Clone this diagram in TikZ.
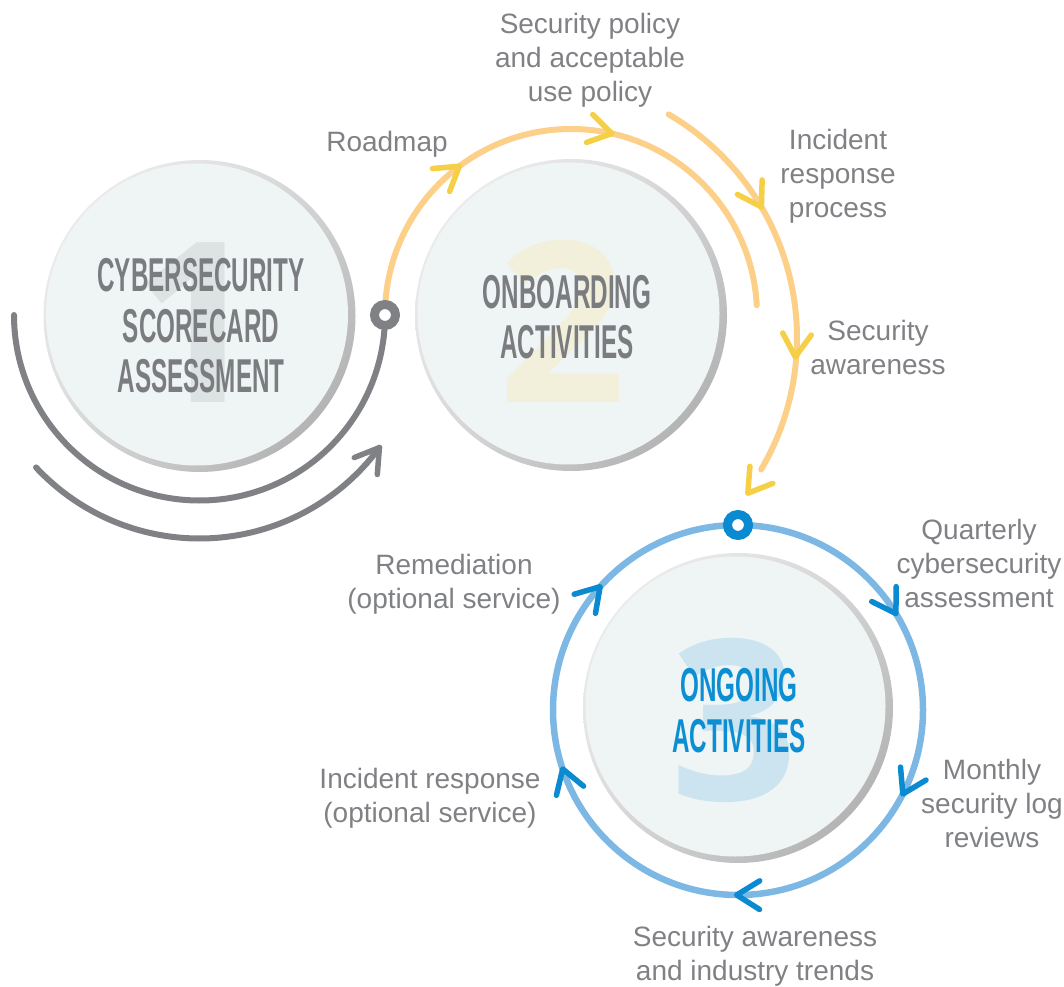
\documentclass[tikz,border=0pt]{standalone}
\usepackage{fontspec}
\setmainfont{Liberation Sans}
\newfontfamily\ghostfont{Open Sans}
\usepackage{graphicx}
\usetikzlibrary{calc,shadings}
\definecolor{lblgray}{HTML}{808184}
\definecolor{arcgray}{HTML}{808184}
\definecolor{orangeln}{HTML}{FDD08A}
\definecolor{yellowar}{HTML}{F5CF45}
\definecolor{blueln}{HTML}{7DB8E5}
\definecolor{bluear}{HTML}{0A8AD1}
\definecolor{discfill}{HTML}{EFF4F5}
\definecolor{ghostA}{HTML}{DDE2E3}
\definecolor{ghostB}{HTML}{F2F0DA}
\definecolor{ghostC}{HTML}{CCE3F0}
\definecolor{titlegray}{HTML}{7B7C80}
\definecolor{titleblue}{HTML}{0B8ED2}
\definecolor{rimA}{HTML}{F4F4F4}
\definecolor{rimB}{HTML}{D4D4D4}
\definecolor{rimC}{HTML}{DADADA}
\definecolor{rimD}{HTML}{A6A6A6}
\newcommand\cond[1]{\scalebox{0.51}[1]{#1}}
\newcommand\chev[3]{%
  \draw[chevron,#3] ($(#1)+(#2+212:27)$) -- (#1) -- ($(#1)+(#2+148:27)$);}
\newcommand\disc[2]{%
  \shade[upper left=rimA, upper right=rimB, lower left=rimC, lower right=rimD] (#1) circle[radius=#2];
  \fill[discfill] ($(#1)+(-2.5,1.5)$) circle[radius=#2-5];}
\tikzset{
  chevron/.style={line width=5.5, line cap=round, line join=round},
  grayarc/.style={draw=arcgray, line width=6, line cap=round},
  orangearc/.style={draw=orangeln, line width=6, line cap=round},
  bluearc/.style={draw=blueln, line width=6.5},
  ring/.style={line width=9, fill=white},
  lbl/.style={text=lblgray, font=\fontsize{28}{34}\selectfont, align=center, anchor=base, inner sep=0},
  ttl/.style={font=\bfseries\fontsize{47.5}{50.5}\selectfont, align=center, anchor=base, inner sep=0},
  ghost/.style={font=\ghostfont\bfseries\fontsize{224}{224}\selectfont, anchor=base, inner sep=0}
}
\begin{document}
\begin{tikzpicture}[x=1pt,y=1pt]
\useasboundingbox (0,0) rectangle (1064,986);
% centres
\coordinate (c1) at (199.5,670);
\coordinate (c2) at (571,671);
\coordinate (c3) at (738,278);
\coordinate (ga) at (199.5,671);
\coordinate (oa) at (571,671);
\coordinate (ob) at (538,648);
\coordinate (bc) at (738,276);
\coordinate (m1) at (385,671);
\coordinate (m3) at (738,461);
% discs
\disc{c1}{156}
\disc{c2}{156}
\disc{c3}{155}
% ghost numerals
\node[ghost, text=ghostA] (g1) at (196,583) {1};
\node[ghost, text=ghostB] (g2) at (562,583) {2};
\node[ghost, text=ghostC] (g3) at (734,186) {3};
% titles
\node[ttl, text=titlegray] (t1) at (201,593) {\cond{CYBERSECURITY}\\\cond{SCORECARD}\\\cond{ASSESSMENT}};
\node[ttl, text=titlegray] (t2) at (567,627) {\cond{ONBOARDING}\\\cond{ACTIVITIES}};
\node[ttl, text=titleblue] (t3) at (739,234) {\cond{ONGOING}\\\cond{ACTIVITIES}};
% gray arcs
\draw[grayarc] (m1) arc[start angle=0, end angle=-180, radius=185.5];
\coordinate (gt) at ($(ga)+(323.6:223.5)$);
\draw[grayarc] ($(ga)+(223:223.5)$) arc[start angle=223, end angle=323.6, radius=223.5];
\chev{gt}{53.6}{arcgray}
% orange arcs
\draw[orangearc] (m1) arc[start angle=180, end angle=3, radius=186];
\coordinate (o1) at ($(oa)+(126.9:186)$);
\coordinate (o2) at ($(oa)+(77.3:186)$);
\chev{o1}{36.9}{yellowar}
\chev{o2}{-12.7}{yellowar}
\draw[orangearc] ($(ob)+(59.7:259)$) arc[start angle=59.7, end angle=-30.5, radius=259];
\coordinate (o3) at ($(ob)+(30.4:259)$);
\coordinate (o4) at ($(ob)+(-4.2:258)$);
\coordinate (o5) at ($(ob)+(-36.5:261)$);
\chev{o3}{-59.6}{yellowar}
\chev{o4}{-94.2}{yellowar}
\chev{o5}{-126.5}{yellowar}
% blue circle
\draw[bluearc] (bc) circle[radius=185];
\coordinate (b1) at ($(bc)+(31.4:185)$);
\coordinate (b2) at ($(bc)+(-27:185)$);
\coordinate (b3) at ($(bc)+(-90.4:185)$);
\coordinate (b4) at ($(bc)+(198.6:185)$);
\coordinate (b5) at ($(bc)+(138.2:185)$);
\chev{b1}{-58.6}{bluear}
\chev{b2}{-117}{bluear}
\chev{b3}{-180.4}{bluear}
\chev{b4}{108.6}{bluear}
\chev{b5}{48.2}{bluear}
% markers
\draw[ring, draw=arcgray] (m1) circle[radius=10.5];
\draw[ring, draw=bluear] (m3) circle[radius=10.5];
% labels (anchor = baseline of last line)
\node[lbl] (l1) at (590,884) {Security policy\\and acceptable\\use policy};
\node[lbl] (l2) at (387,834) {Roadmap};
\node[lbl] (l3) at (838,768) {Incident\\response\\process};
\node[lbl] (l4) at (878,611) {Security\\awareness};
\node[lbl] (l5) at (979,379) {Quarterly\\cybersecurity\\assessment};
\node[lbl] (l6) at (992,139) {Monthly\\security log\\reviews};
\node[lbl] (l7) at (755,6) {Security awareness\\and industry trends};
\node[lbl] (l8) at (454,378) {Remediation\\(optional service)};
\node[lbl] (l9) at (430,164) {Incident response\\(optional service)};
\end{tikzpicture}
\end{document}
